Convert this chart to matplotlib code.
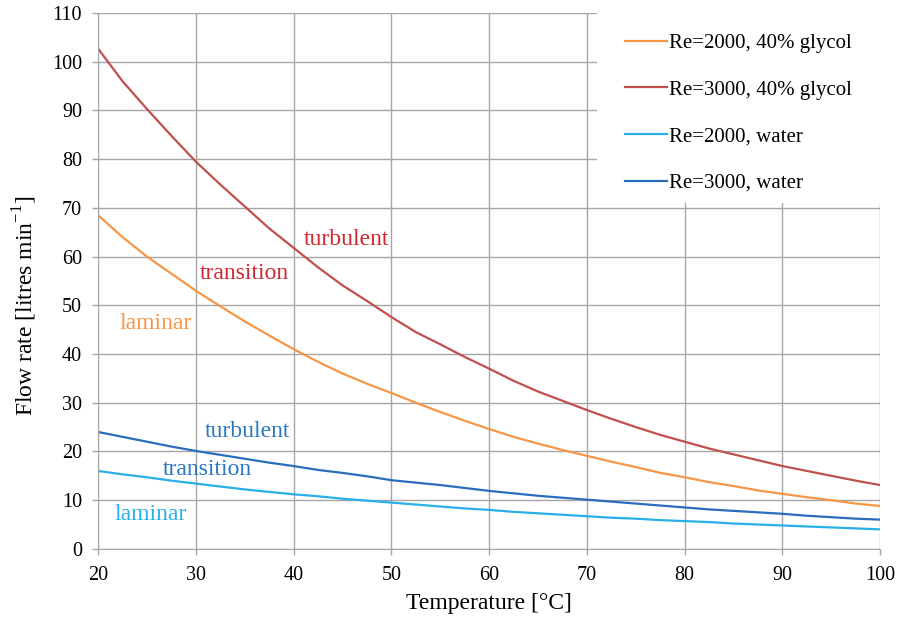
import numpy as np
import matplotlib.pyplot as plt
from matplotlib.patches import Rectangle

plt.rcParams['font.family'] = ['Liberation Serif', 'DejaVu Serif']
plt.rcParams['mathtext.fontset'] = 'custom'
plt.rcParams['mathtext.rm'] = 'Liberation Serif'

# temperature [°C]
temp = [20, 22.5, 25, 27.5, 30, 32.5, 35, 37.5, 40, 42.5, 45, 47.5, 50, 52.5, 55, 57.5,
        60, 62.5, 65, 67.5, 70, 72.5, 75, 77.5, 80, 82.5, 85, 87.5, 90, 92.5, 95, 97.5, 100]

# flow rates [litres/min]
re2000_glycol = [68.5, 64.0, 60.0, 56.5, 53.0, 49.8, 46.7, 43.8, 41.0, 38.4, 36.0, 33.9, 32.0,
                 30.0, 28.1, 26.3, 24.6, 23.0, 21.6, 20.3, 19.1, 17.9, 16.8, 15.6, 14.7,
                 13.7, 12.9, 12.0, 11.3, 10.6, 10.0, 9.3, 8.8]
re3000_glycol = [102.7, 96.0, 90.3, 84.8, 79.5, 74.8, 70.3, 65.8, 61.8, 57.8, 54.1, 50.9, 47.6,
                 44.5, 42.0, 39.4, 37.0, 34.5, 32.3, 30.4, 28.5, 26.7, 25.0, 23.4, 22.0,
                 20.6, 19.4, 18.2, 17.0, 16.0, 15.0, 14.0, 13.1]
re2000_water = [16.0, 15.3, 14.7, 14.0, 13.4, 12.8, 12.2, 11.7, 11.2, 10.8, 10.3, 9.9, 9.5,
                9.1, 8.7, 8.3, 8.0, 7.6, 7.3, 7.0, 6.7, 6.4, 6.2, 5.9, 5.7, 5.5, 5.2, 5.0,
                4.8, 4.6, 4.4, 4.2, 4.0]
re3000_water = [24.0, 23.0, 22.0, 21.0, 20.1, 19.3, 18.5, 17.7, 17.0, 16.2, 15.6, 14.9, 14.1,
                13.6, 13.1, 12.5, 11.9, 11.4, 10.9, 10.5, 10.1, 9.7, 9.3, 8.9, 8.5, 8.1,
                7.8, 7.5, 7.2, 6.8, 6.5, 6.2, 6.0]

series_labels = ['Re=2000, 40% glycol', 'Re=3000, 40% glycol', 'Re=2000, water', 'Re=3000, water']
series_colors = ['#F79646', '#C0504D', '#29B0E8', '#2A6EBB']

# regime annotations: (text, x, y, colour)
notes = [
    ('turbulent', 41.0, 63.5, '#D0262F'),
    ('transition', 30.4, 56.5, '#D0262F'),
    ('laminar', 22.2, 46.3, '#F79646'),
    ('turbulent', 30.9, 24.0, '#2A78C4'),
    ('transition', 26.6, 16.2, '#2A78C4'),
    ('laminar', 21.7, 7.0, '#29B0E8'),
]

fig = plt.figure(figsize=(9, 6.23), dpi=100)
ax = fig.add_axes([0.109, 0.119, 0.869, 0.86])

for ys, lab, col in zip([re2000_glycol, re3000_glycol, re2000_water, re3000_water],
                        series_labels, series_colors):
    ax.plot(temp, ys, color=col, lw=1.6, label=lab)

for txt, x, y, col in notes:
    ax.text(x, y, txt, color=col, fontsize=17, ha='left', va='center')

ax.set_xlim(20, 100)
ax.set_ylim(0, 110)
ax.set_xticks(range(20, 101, 10))
ax.set_yticks(range(0, 111, 10))
ax.grid(True, color='#A6A6A6', lw=1)
ax.set_axisbelow(True)
for s in ax.spines.values():
    s.set_color('#A6A6A6')
ax.spines['top'].set_visible(False)
ax.spines['right'].set_visible(False)
ax.tick_params(colors='#A6A6A6', labelcolor='black', labelsize=14.5, length=4.5, width=1,
               direction='out')
ax.tick_params(axis='x', pad=7.5)
ax.tick_params(axis='y', pad=7)

ax.set_xlabel('Temperature [°C]', fontsize=17, labelpad=6)
ax.set_ylabel(r'Flow rate [litres min$^{\mathrm{-1}}$]', fontsize=17)
ax.yaxis.set_label_coords(-0.075, 0.453)

# white box behind the legend, hides the grid there
ax.add_patch(Rectangle((0.638, 0.645), 0.362, 0.355, transform=ax.transAxes,
                       facecolor='white', edgecolor='none', zorder=2))
leg = ax.legend(loc='upper left', bbox_to_anchor=(0.674, 0.962), fontsize=15, frameon=False,
                labelspacing=1.3, handlelength=2.0, handletextpad=0.1,
                borderaxespad=0, borderpad=0)
leg.set_zorder(3)

fig.savefig('out.png', dpi=100)
